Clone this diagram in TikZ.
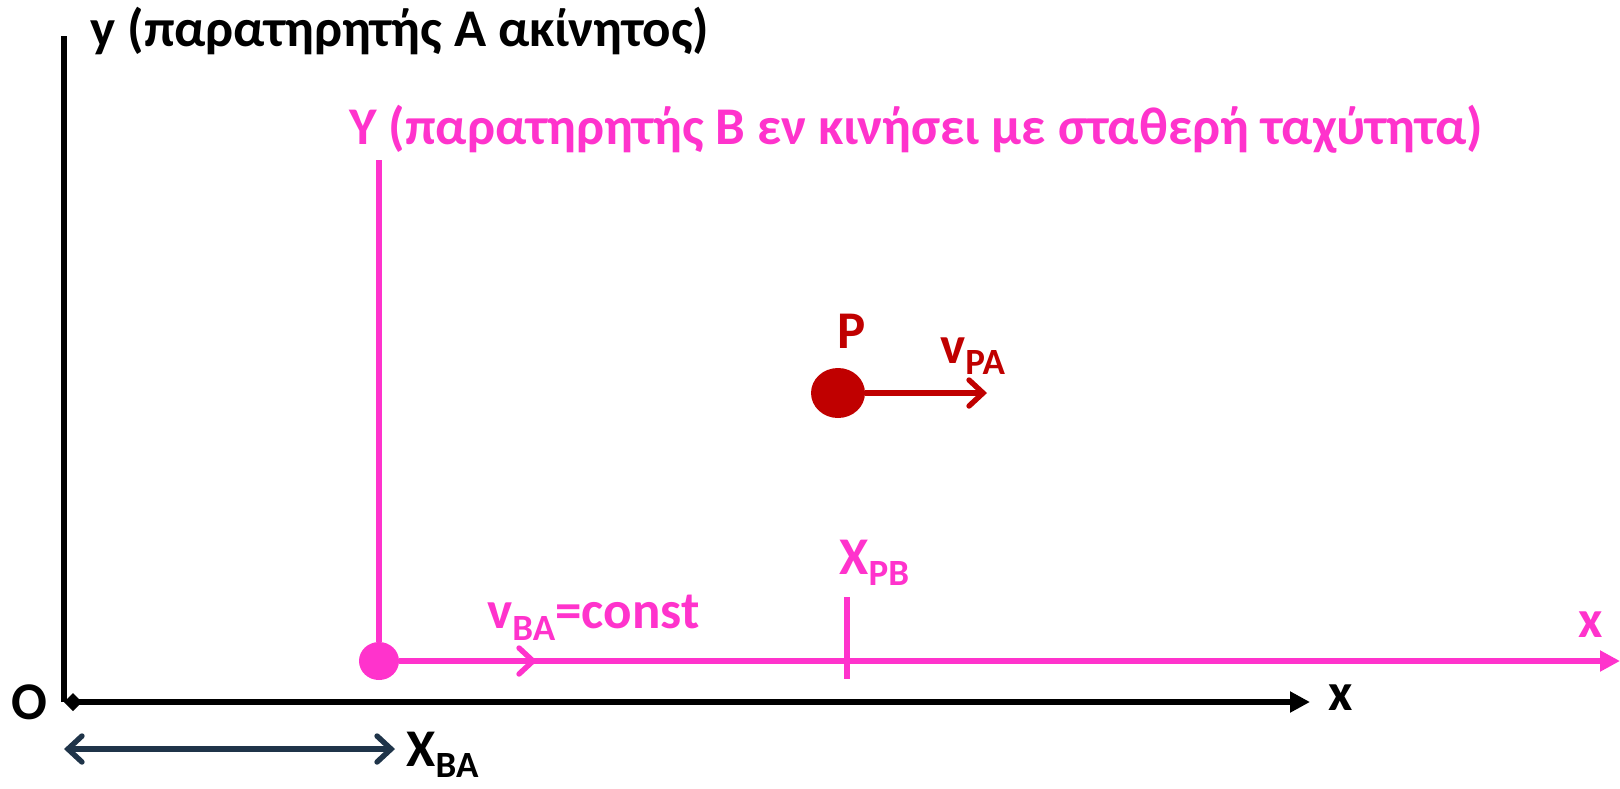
\documentclass[tikz,border=0pt]{standalone}
\usepackage{fontspec}
\setmainfont{Carlito}
\usepackage{tikz}
\usetikzlibrary{arrows.meta,positioning,calc,shapes.geometric}
\definecolor{fpink}{HTML}{FF33CC}
\definecolor{fred}{HTML}{C00000}
\definecolor{fnavy}{HTML}{1F3449}
\newcommand{\lowsub}[1]{\raisebox{-0.45ex}{\fontsize{18.5}{18.5}\selectfont #1}}

\begin{document}
\begin{tikzpicture}[x=0.5pt,y=-0.5pt,font=\fontsize{26.5}{30}\selectfont\bfseries,
  lbl/.style={inner sep=0pt},
  axisline/.style={line width=2.7pt},
  dot/.style={ellipse,inner sep=0pt}]
\useasboundingbox (0,0) rectangle (1620,788);
% observer A: fixed axes
\coordinate (O) at (64,702);
\coordinate (ytop) at (64,36);
\coordinate (xend) at (1310,702);
\draw[axisline,{Diamond[length=9pt,width=9pt]}-{Triangle[length=10pt,width=10pt]}] (O) -- (xend);
\draw[axisline] (O) -- (ytop);
\node[lbl] (Olab) at (29,702) {O};
\node[lbl] (xlab) at (1341,698) {x};
\node[lbl,anchor=west] (ylab) at (90,31) {y (παρατηρητής A ακίνητος)};
% observer B: moving axes
\node[dot,fill=fpink,minimum width=20pt,minimum height=19pt] (B) at (379,661) {};
\coordinate (Ytop) at (379,160);
\coordinate (Xend) at (1620,661);
\coordinate (vBAtip) at (537,661);
\draw[axisline,fpink,-{Triangle[length=10pt,width=10pt]}] (B.east) -- (Xend);
\draw[axisline,fpink] (B.north) -- (Ytop);
\draw[axisline,fpink,-{Straight Barb[length=7pt,width=13pt,line cap=round]}] (B.east) -- (vBAtip);
\node[lbl,fpink,anchor=west] (Ylab) at (349,129) {Υ (παρατηρητής Β εν κινήσει με σταθερή ταχύτητα)};
\node[lbl,fpink] (Xlab) at (1591,625) {x};
\node[lbl,fpink,anchor=west] (vBA) at (487,618) {v\lowsub{BA}=const};
% position of P in B's frame
\coordinate (tickA) at (847,597);
\coordinate (tickB) at (847,679);
\draw[axisline,fpink] (tickA) -- (tickB);
\node[lbl,fpink,anchor=west] (XPB) at (839,563) {X\lowsub{PB}};
% the particle P
\node[dot,fill=fred,minimum width=27pt,minimum height=25pt] (P) at (838,393) {};
\coordinate (vPAtip) at (987,393);
\draw[axisline,fred,-{Straight Barb[length=7pt,width=13pt,line cap=round]}] (P.east) -- (vPAtip);
\node[lbl,fred] (Plab) at (852,331) {P};
\node[lbl,fred,anchor=west] (vPA) at (940,356) {v\lowsub{PA}};
% distance of B from O
\coordinate (xa) at (64,749);
\coordinate (xb) at (395,749);
\draw[axisline,fnavy,{Straight Barb[length=7pt,width=13pt,line cap=round]}-{Straight Barb[length=7pt,width=13pt,line cap=round]}] (xa) -- (xb);
\node[lbl,anchor=west] (XBA) at (406,755) {X\lowsub{BA}};
\end{tikzpicture}
\end{document}
